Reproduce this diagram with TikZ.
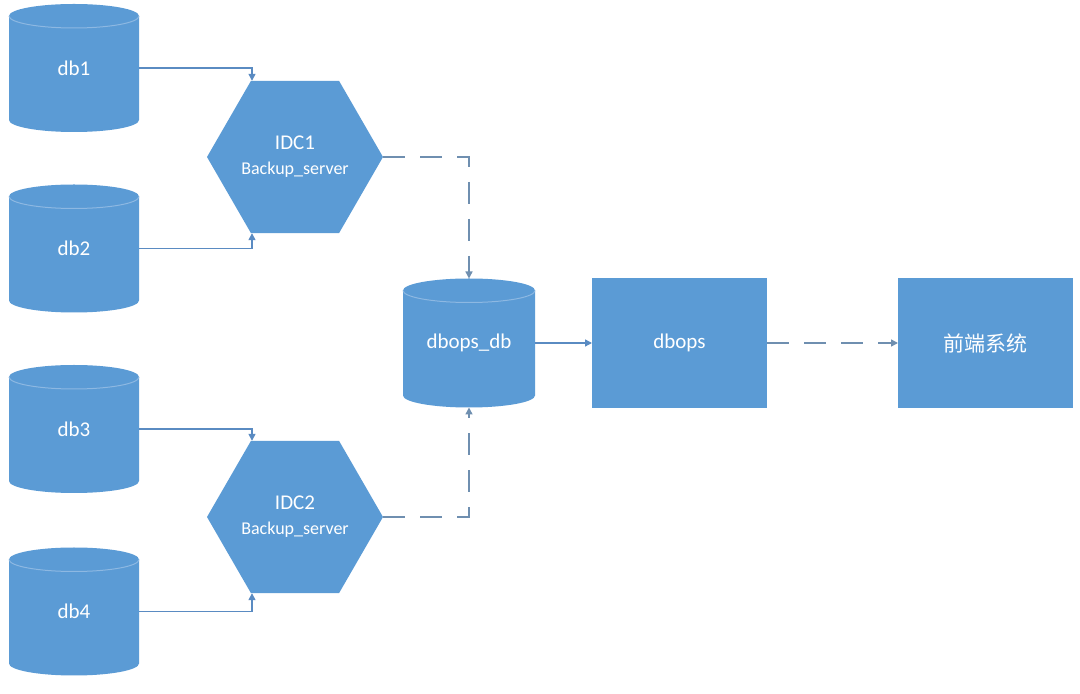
\documentclass[tikz,border=0pt]{standalone}
\usepackage{fontspec}
\setmainfont{Carlito}
\newfontfamily\cjk{Noto Sans CJK SC}
\usetikzlibrary{shapes.geometric,arrows.meta,backgrounds}
\definecolor{boxblue}{HTML}{5B9BD5}
\definecolor{rimblue}{HTML}{8DB8E2}
\definecolor{lineblue}{HTML}{5A8BC2}
\definecolor{dashblue}{HTML}{6F8FB0}
\tikzset{
  dbnode/.style={rectangle, minimum width=130pt, minimum height=128pt, inner sep=0pt, outer sep=0pt, text=white, font=\fontsize{21}{25}\selectfont},
  hexnode/.style={regular polygon, regular polygon sides=6, minimum size=176pt, inner sep=0pt, outer sep=0pt, fill=boxblue, text=white, align=center, font=\fontsize{18}{25}\selectfont},
  boxnode/.style={rectangle, minimum width=175pt, minimum height=130pt, inner sep=0pt, outer sep=0pt, fill=boxblue, text=white, font=\fontsize{21}{25}\selectfont},
  link/.style={draw=lineblue, line width=1.4pt, -{Triangle[width=7pt,length=7pt]}},
  dlink/.style={draw=dashblue, line width=1.4pt, dash pattern=on 22pt off 15pt, -{Triangle[width=7pt,length=7pt]}}
}
\newcommand\cylshape[2]{%
  \fill[boxblue] ([yshift=-12pt]#1.north west) -- ([yshift=12pt]#1.south west)
    arc[start angle=180,end angle=360,x radius=#2,y radius=12pt]
    -- ([yshift=-12pt]#1.north east)
    arc[start angle=0,end angle=180,x radius=#2,y radius=12pt] -- cycle;
  \draw[rimblue, line width=1pt] ([yshift=-12pt]#1.north west)
    arc[start angle=180,end angle=360,x radius=#2,y radius=12pt];
}
\begin{document}
\begin{tikzpicture}[x=1pt,y=1pt]
\useasboundingbox (0,0) rectangle (1080,694);

\node[dbnode] (db1) at (74,626) {db1};
\node[dbnode] (db2) at (74,445.5) {db2};
\node[dbnode] (db3) at (74,265) {db3};
\node[dbnode] (db4) at (74,82.5) {db4};
\node[dbnode, minimum width=132pt, minimum height=129pt] (dbopsdb) at (469,351) {dbops\_db};

\begin{pgfonlayer}{background}
  \fill[white] (0,0) rectangle (1080,694);
  \cylshape{db1}{65pt}
  \cylshape{db2}{65pt}
  \cylshape{db3}{65pt}
  \cylshape{db4}{65pt}
  \cylshape{dbopsdb}{66pt}
\end{pgfonlayer}

\node[hexnode] (idc1) at (295,537) {{\fontsize{21}{25}\selectfont IDC1}\\Backup\_server};
\node[hexnode] (idc2) at (295,177) {{\fontsize{21}{25}\selectfont IDC2}\\Backup\_server};

\node[boxnode] (dbops) at (679.5,351) {dbops};
\node[boxnode] (front) at (985.5,351) {\cjk 前端系统};

\draw[link] (db1.east) -| ([xshift=-43pt]idc1.north);
\draw[link] (db2.east) -| ([xshift=-43pt]idc1.south);
\draw[link] (db3.east) -| ([xshift=-43pt]idc2.north);
\draw[link] (db4.east) -| ([xshift=-43pt]idc2.south);
\draw[dlink] (idc1.east) -| (dbopsdb.north);
\draw[dlink] (idc2.east) -| (dbopsdb.south);
\draw[link] (dbopsdb.east) -- (dbops.west);
\draw[dlink] (dbops.east) -- (front.west);
\end{tikzpicture}
\end{document}
